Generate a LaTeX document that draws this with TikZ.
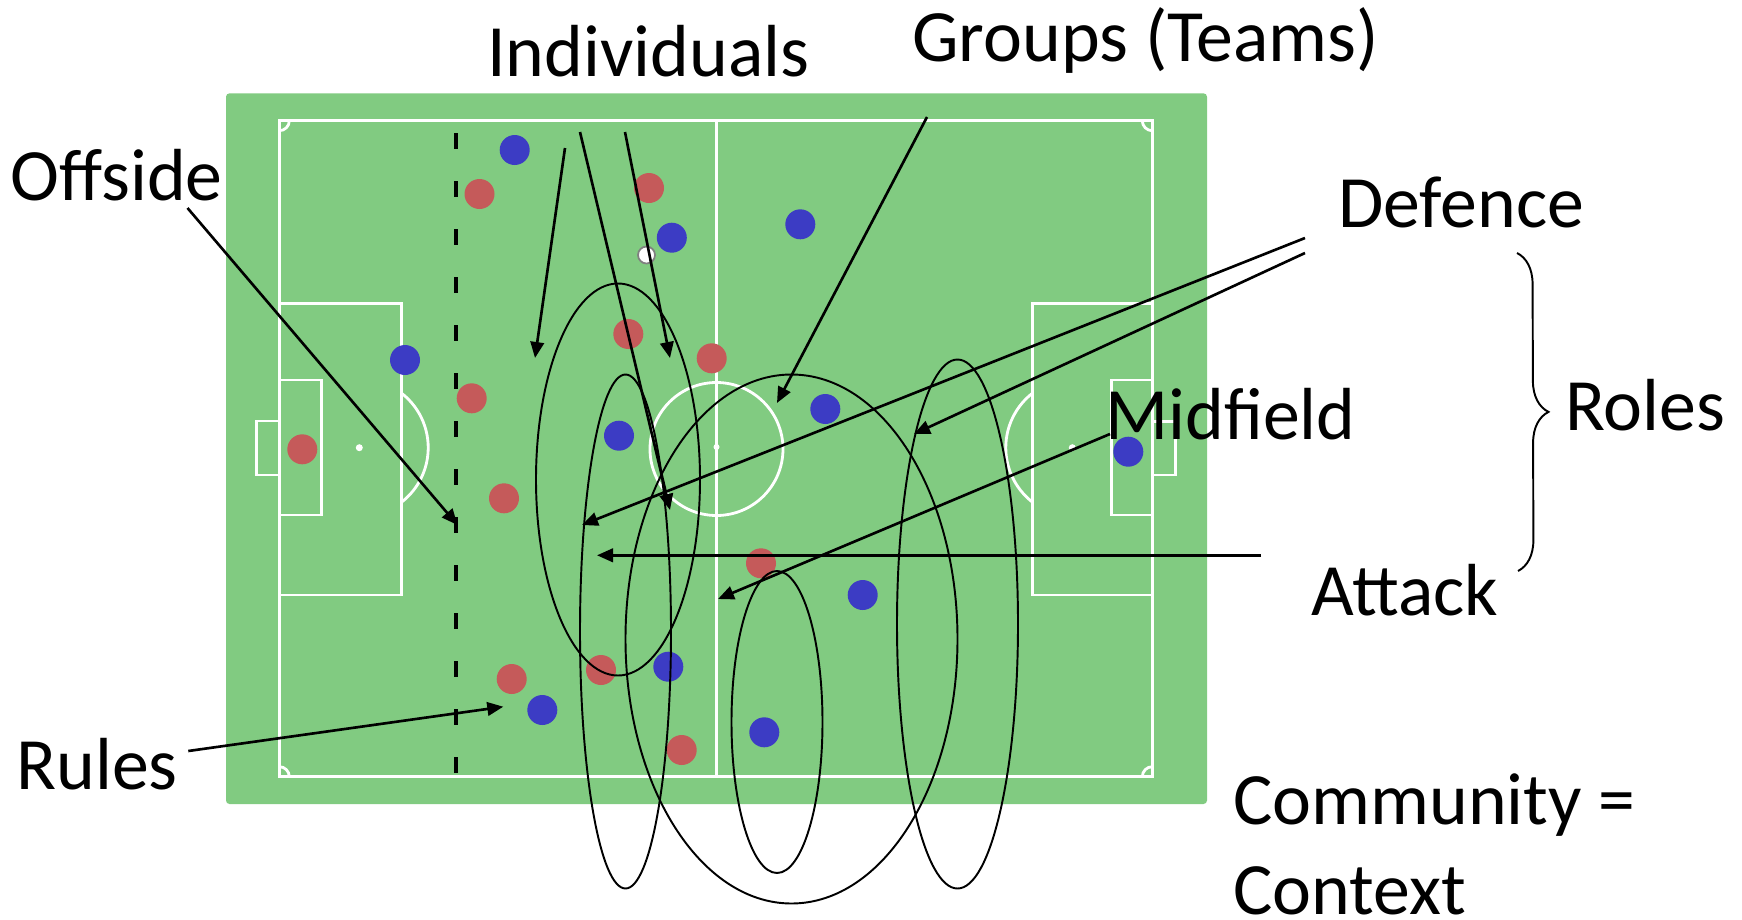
\documentclass[tikz,border=0pt]{standalone}
\usepackage{fontspec}
\setmainfont{Carlito}
\usetikzlibrary{arrows.meta,decorations.pathreplacing}
\definecolor{pitchgreen}{RGB}{129,203,129}
\definecolor{redteam}{RGB}{197,90,90}
\definecolor{blueteam}{RGB}{60,60,196}

\begin{document}
\begin{tikzpicture}[x=0.02cm,y=-0.02cm]
\tikzstyle{every node}+=[inner sep=0pt]
\tikzstyle{txt}=[anchor=base west,font=\fontsize{42}{51}\selectfont]
\tikzstyle{pitchline}=[white,line width=1.6pt]
\tikzstyle{pointer}=[black,line width=1.5pt,-{Triangle[length=0.32cm,width=0.27cm]}]
\tikzstyle{loop}=[black,line width=1.1pt]
\useasboundingbox (0,0) rectangle (1742,920);
% pitch
\fill [pitchgreen,rounded corners=2pt] (226,93.3) rectangle (1207,804);
\draw [pitchline] (279.3,120.7) rectangle (1152.3,776.7);
\draw [pitchline] (716.5,120.7) -- (716.5,776.7);
\draw [pitchline] (716.5,449) circle (66.5);
\fill [white] (716.5,447) circle (3);
\draw [pitchline] (279.3,303.3) rectangle (401.7,595);
\draw [pitchline] (279.3,380) rectangle (321.7,515);
\draw [pitchline] (256.7,421) rectangle (279.3,475);
\fill [white] (359.3,447.7) circle (3.5);
\draw [pitchline] (401.7,393.3) arc [start angle=-52, end angle=52, radius=69];
\draw [pitchline] (1032.3,303.3) rectangle (1152.3,595);
\draw [pitchline] (1111.7,380) rectangle (1152.3,515);
\draw [pitchline] (1152.3,421.7) rectangle (1175.7,475);
\fill [white] (1072.3,447.7) circle (3.5);
\draw [pitchline] (1032.3,393.3) arc [start angle=232, end angle=128, radius=69];
\draw [pitchline] (289.3,120.7) arc [start angle=0, end angle=90, radius=10];
\draw [pitchline] (1142.3,120.7) arc [start angle=180, end angle=90, radius=10];
\draw [pitchline] (289.3,776.7) arc [start angle=0, end angle=-90, radius=10];
\draw [pitchline] (1142.3,776.7) arc [start angle=180, end angle=270, radius=10];
% players
\fill [redteam] (479.5,194) circle (15);
\fill [redteam] (649,188) circle (15);
\fill [redteam] (628.3,334) circle (15);
\fill [redteam] (711.7,358.3) circle (15);
\fill [redteam] (471.7,398.3) circle (15);
\fill [redteam] (302.3,449.3) circle (15);
\fill [redteam] (504,498.3) circle (15);
\fill [redteam] (761,563.3) circle (15);
\fill [redteam] (511.7,679) circle (15);
\fill [redteam] (601,670) circle (15);
\fill [redteam] (681.7,750) circle (15);
\fill [blueteam] (514.7,150) circle (15);
\fill [blueteam] (671.8,237.7) circle (15);
\fill [blueteam] (800.3,224.3) circle (15);
\fill [blueteam] (405,360) circle (15);
\fill [blueteam] (619,435.7) circle (15);
\fill [blueteam] (825.3,409) circle (15);
\fill [blueteam] (1128.3,451.7) circle (15);
\fill [blueteam] (862.7,595) circle (15);
\fill [blueteam] (542.3,710) circle (15);
\fill [blueteam] (668.3,666.7) circle (15);
\fill [blueteam] (764.3,732.3) circle (15);
\draw [gray,fill=white,line width=1pt] (646.5,255) circle (8.5);
% offside line
\draw [black,line width=2.3pt,dash pattern=on 0.32cm off 0.64cm] (456,133.3) -- (456,773.3);
% groups
\draw [loop] (618,479.5) ellipse [x radius=82, y radius=196];
\draw [loop] (625.5,631.5) ellipse [x radius=45.5, y radius=257];
\draw [loop] (957.5,624) ellipse [x radius=60.5, y radius=264.5];
\draw [loop] (791.5,639) ellipse [x radius=166, y radius=264.5];
\draw [loop] (777,722) ellipse [x radius=45.5, y radius=151];
% labels
\node [txt] (offside) at (10,200) {Offside};
\node [txt] (individuals) at (487,76) {Individuals};
\node [txt] (groups) at (912,61) {Groups (Teams)};
\node [txt] (defence) at (1338,227) {Defence};
\node [txt] (midfield) at (1105,439) {Midfield};
\node [txt] (roles) at (1565,430) {Roles};
\node [txt] (attack) at (1311,615) {Attack};
\node [txt] (rules) at (16,789) {Rules};
\node [txt,align=left] (community) at (1233,914) {Community =\\Context};
% arrow ends
\coordinate (offside-from) at (187.5,208);
\coordinate (offside-to) at (457.5,525);
\coordinate (indiv-a) at (565,148);
\coordinate (indiv-b) at (580,132);
\coordinate (indiv-c) at (625,132);
\coordinate (indiv-a-to) at (535,358);
\coordinate (indiv-b-to) at (670,510);
\coordinate (indiv-c-to) at (670,358);
\coordinate (groups-from) at (927,117);
\coordinate (groups-to) at (777,403);
\coordinate (defence-a) at (1305,238);
\coordinate (defence-b) at (1305,253);
\coordinate (defence-a-to) at (582,525);
\coordinate (defence-b-to) at (914,434);
\coordinate (midfield-from) at (1110,434);
\coordinate (midfield-to) at (718,599);
\coordinate (attack-from) at (1261,555.3);
\coordinate (attack-to) at (597,555.3);
\coordinate (rules-from) at (188.3,751);
\coordinate (rules-to) at (503.3,706.7);
\draw [pointer] (offside-from) -- (offside-to);
\draw [pointer] (indiv-a) -- (indiv-a-to);
\draw [pointer] (indiv-b) -- (indiv-b-to);
\draw [pointer] (indiv-c) -- (indiv-c-to);
\draw [pointer] (groups-from) -- (groups-to);
\draw [pointer] (defence-a) -- (defence-a-to);
\draw [pointer] (defence-b) -- (defence-b-to);
\draw [pointer] (midfield-from) -- (midfield-to);
\draw [pointer] (attack-from) -- (attack-to);
\draw [pointer] (rules-from) -- (rules-to);
% roles brace
\draw [loop,decorate,decoration={brace,amplitude=0.62cm}] (1517,253) -- (1518,571);
\end{tikzpicture}
\end{document}
